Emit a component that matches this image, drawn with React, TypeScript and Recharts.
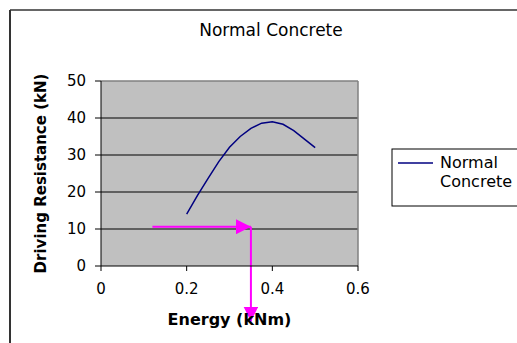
import { LineChart, Line, XAxis, YAxis, CartesianGrid, ReferenceLine, Label } from "recharts";

const energy = [0.2, 0.225, 0.25, 0.275, 0.3, 0.325, 0.35, 0.375, 0.4, 0.425, 0.45, 0.475, 0.5];
const resistance = [14, 19, 23.7, 28.2, 32.1, 35, 37.2, 38.6, 39, 38.3, 36.6, 34.3, 32];
const xTicks = [0, 0.2, 0.4, 0.6];
const yTicks = [0, 10, 20, 30, 40, 50];
const seriesName = "Normal Concrete";

// magenta annotation: from start, across to the curve, then down past the axis
const arrowStart = { x: 0.12, y: 10.6 };
const arrowCorner = { x: 0.35, y: 10.6 };
const arrowEnd = { x: 0.35, y: -15 };

const data = energy.map((e, i) => ({ energy: e, resistance: resistance[i] }));

const FONT = "'DejaVu Sans', Arial, sans-serif";
const MAGENTA = "#FF00FF";

export default function App() {
  return (
    <div style={{ position: "absolute", left: 0, top: 0, width: 517, height: 343, overflow: "hidden", background: "#fff" }}>
      <svg width={0} height={0} style={{ position: "absolute" }}>
        <defs>
          <marker id="arrowHead" markerUnits="userSpaceOnUse" markerWidth={15} markerHeight={15}
            viewBox="0 0 15 15" refX={15} refY={7.5} orient="auto">
            <path d="M0,0 L15,7.5 L0,15 z" fill={MAGENTA} />
          </marker>
        </defs>
      </svg>
      <LineChart width={517} height={343} data={data}
        margin={{ top: 81, right: 159, left: 40, bottom: 47 }}>
        <CartesianGrid vertical={false} horizontalValues={[10, 20, 30, 40]} stroke="#000" fill="#C0C0C0" fillOpacity={1} />
        <ReferenceLine y={50} stroke="#808080" strokeWidth={1.5} />
        <ReferenceLine x={0.6} stroke="#808080" strokeWidth={1.5} />
        <XAxis dataKey="energy" type="number" domain={[0, 0.6]} ticks={xTicks} height={30}
          stroke="#000" tickSize={5} tickMargin={12} interval={0}
          tick={{ fill: "#000", fontSize: 15, fontFamily: FONT }}>
          <Label content={({ viewBox }: any) => (
            <text x={viewBox.x + viewBox.width / 2} y={viewBox.y + 59} textAnchor="middle"
              fontFamily={FONT} fontSize={16} fontWeight="bold" fill="#000">Energy (kNm)</text>
          )} />
        </XAxis>
        <YAxis type="number" domain={[0, 50]} ticks={yTicks} width={61} stroke="#000"
          tickSize={6} tickMargin={9} interval={0}
          tick={{ fill: "#000", fontSize: 15, fontFamily: FONT }}>
          <Label content={({ viewBox }: any) => {
            const cx = viewBox.x + 6;
            const cy = viewBox.y + viewBox.height / 2;
            return (
              <text x={cx} y={cy} transform={`rotate(-90, ${cx}, ${cy})`} textAnchor="middle"
                fontFamily={FONT} fontSize={15} fontWeight="bold" fill="#000">Driving Resistance (kN)</text>
            );
          }} />
        </YAxis>
        <Line type="linear" dataKey="resistance" name={seriesName} stroke="#000080" strokeWidth={1.5}
          dot={false} isAnimationActive={false} />
        <ReferenceLine segment={[arrowStart, arrowCorner]} stroke={MAGENTA} strokeWidth={2}
          ifOverflow="visible" markerEnd="url(#arrowHead)" />
        <ReferenceLine segment={[arrowCorner, arrowEnd]} stroke={MAGENTA} strokeWidth={2}
          ifOverflow="visible" markerEnd="url(#arrowHead)" />
      </LineChart>
      <svg width={517} height={343} style={{ position: "absolute", left: 0, top: 0, pointerEvents: "none" }}>
        <line x1={10} y1={10} x2={517} y2={10} stroke="#333" strokeWidth={1.5} />
        <line x1={10} y1={10} x2={10} y2={343} stroke="#333" strokeWidth={2} />
        <text x={271} y={36} textAnchor="middle" fontFamily={FONT} fontSize={17} fill="#000">{seriesName}</text>
        <rect x={392} y={149} width={140} height={57} fill="#fff" stroke="#000" strokeWidth={1} />
        <line x1={398} y1={163} x2={433} y2={163} stroke="#000080" strokeWidth={1.5} />
        <text x={440} y={168} fontFamily={FONT} fontSize={16} fill="#000">Normal</text>
        <text x={440} y={187} fontFamily={FONT} fontSize={16} fill="#000">Concrete</text>
      </svg>
    </div>
  );
}
